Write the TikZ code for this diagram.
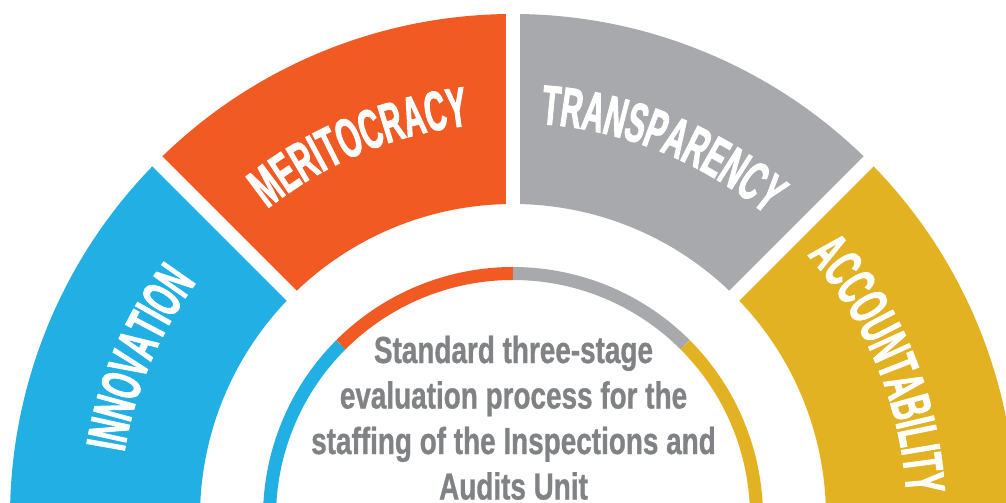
\documentclass[tikz,border=0pt]{standalone}
\usepackage{fontspec}
\usetikzlibrary{decorations.text}
\newfontfamily\lblfont{Liberation Sans}[FakeStretch=0.53, FakeBold=1.6]
\newfontfamily\ctrfont{Liberation Sans}[FakeStretch=0.74, FakeBold=0.8]
\definecolor{cblue}{RGB}{34,176,228}
\definecolor{corange}{RGB}{241,90,34}
\definecolor{cgray}{RGB}{167,169,172}
\definecolor{cyellow}{RGB}{227,178,34}
\definecolor{txtgray}{RGB}{128,130,133}
\tikzset{
  gapline/.style={white, line width=14pt},
  thinring/.style={line width=13pt},
  arclabel/.style={decorate, decoration={text along path, text align=center,
      text={|\lblfont\bfseries\fontsize{56}{56}\selectfont\color{white}|#1}}},
}
\begin{document}
\begin{tikzpicture}[x=1pt,y=1pt]
\useasboundingbox (-513,14) rectangle (493,517);
\clip (-513,14) rectangle (493,517);
% outer ring segments
\fill[cblue]   (180:503) arc[start angle=180,end angle=135,radius=503] -- (135:313) arc[start angle=135,end angle=180,radius=313] -- cycle;
\fill[corange] (135:503) arc[start angle=135,end angle=90,radius=503] -- (90:313) arc[start angle=90,end angle=135,radius=313] -- cycle;
\fill[cgray]   (90:503) arc[start angle=90,end angle=45,radius=503] -- (45:313) arc[start angle=45,end angle=90,radius=313] -- cycle;
\fill[cyellow] (45:503) arc[start angle=45,end angle=0,radius=503] -- (0:313) arc[start angle=0,end angle=45,radius=313] -- cycle;
% gaps
\coordinate (g1a) at (135:290); \coordinate (g1b) at (135:530);
\coordinate (g2a) at (90:290);  \coordinate (g2b) at (90:530);
\coordinate (g3a) at (45:290);  \coordinate (g3b) at (45:530);
\draw[gapline] (g1a) -- (g1b);
\draw[gapline] (g2a) -- (g2b);
\draw[gapline] (g3a) -- (g3b);
% thin inner ring
\draw[thinring, cblue]   (180:243.5) arc[start angle=180,end angle=135,radius=243.5];
\draw[thinring, corange] (135:243.5) arc[start angle=135,end angle=90,radius=243.5];
\draw[thinring, cgray]   (90:243.5) arc[start angle=90,end angle=45,radius=243.5];
\draw[thinring, cyellow] (45:243.5) arc[start angle=45,end angle=0,radius=243.5];
% labels along arcs
\path[arclabel=INNOVATION]     (187:394) arc[start angle=187,end angle=127,radius=394];
\path[arclabel=MERITOCRACY]    (142.5:394) arc[start angle=142.5,end angle=82.5,radius=394];
\path[arclabel=TRANSPARENCY]   (98:394) arc[start angle=98,end angle=38,radius=394];
\path[arclabel=ACCOUNTABILITY] (52.5:394) arc[start angle=52.5,end angle=-7.5,radius=394];
% centre text
\node[font=\ctrfont\bfseries\fontsize{37.7}{45.5}\selectfont, text=txtgray, align=center,
      inner sep=0pt, anchor=north] (title) at (0.5,181.5)
  {Standard three-stage\\evaluation process for the\\staffing of the Inspections and\\Audits Unit};
\end{tikzpicture}
\end{document}
